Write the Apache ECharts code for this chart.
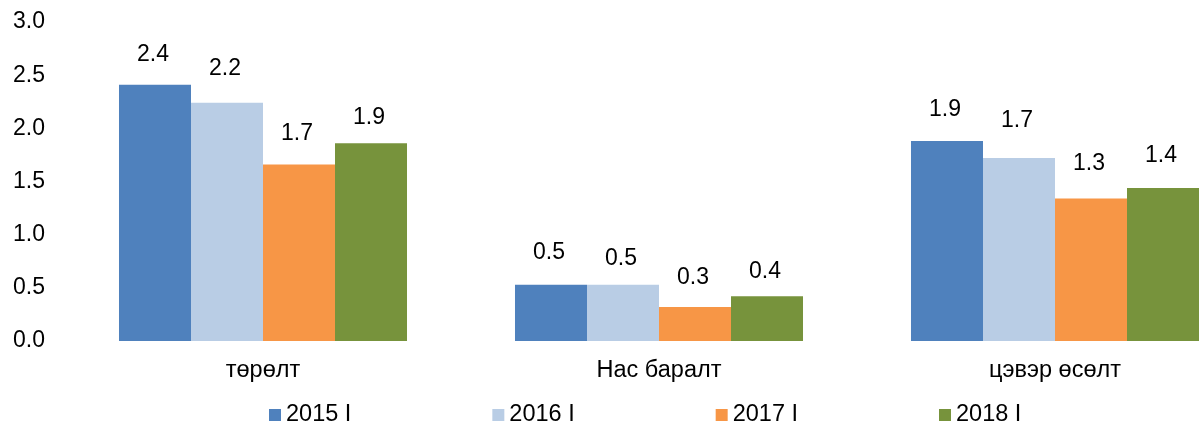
<!DOCTYPE html>
<html>
<head>
<meta charset="utf-8">
<script src="https://cdn.jsdelivr.net/npm/echarts@6/dist/echarts.min.js"></script>
<style>
html,body{margin:0;padding:0;background:#fff;overflow:hidden;width:1201px;height:421px;}
#c{width:1253px;height:421px;}
</style>
</head>
<body>
<div id="c"></div>
<script>
const categories = ['төрөлт', 'Нас баралт', 'цэвэр өсөлт'];
const seriesNames = ['2015 I', '2016 I', '2017 I', '2018 I'];
const s2015 = [2.41, 0.53, 1.88];
const s2016 = [2.24, 0.53, 1.72];
const s2017 = [1.66, 0.32, 1.34];
const s2018 = [1.86, 0.42, 1.44];
const colors = ['#4F81BD', '#B9CDE5', '#F79646', '#77933C'];
const allData = [s2015, s2016, s2017, s2018];
// label nudges (px, positive = higher) to mimic hand-placed labels
const labelLift = [[0, 1, 1], [4, -5, 7], [0, -1, 4], [-5, -6, 2]];
const FONT = '"Liberation Sans", Arial, sans-serif';

const chart = echarts.init(document.getElementById('c'), null, {renderer: 'canvas'});
chart.setOption({
  animation: false,
  backgroundColor: '#fff',
  color: colors,
  grid: {left: 65, right: 0, top: 22, bottom: 80, containLabel: false},
  legend: {
    data: seriesNames,
    left: 264, top: 398,
    icon: 'rect', itemWidth: 12, itemHeight: 12, itemGap: 141,
    textStyle: {fontFamily: FONT, fontSize: 23.5, color: '#000'}
  },
  xAxis: {
    type: 'category', data: categories,
    axisLine: {show: false}, axisTick: {show: false},
    axisLabel: {fontFamily: FONT, fontSize: 23.5, color: '#000', margin: 18}
  },
  yAxis: {
    type: 'value', min: 0, max: 3, interval: 0.5,
    splitLine: {show: false}, axisLine: {show: false}, axisTick: {show: false},
    axisLabel: {fontFamily: FONT, fontSize: 23, color: '#000', margin: 20,
      formatter: v => v.toFixed(1)}
  },
  series: seriesNames.map((n, i) => ({
    name: n, type: 'bar',
    data: allData[i].map((v, j) => ({value: v, label: {offset: [-2, -labelLift[i][j]]}})),
    barGap: '0%', barCategoryGap: '27.27%',
    itemStyle: {color: colors[i]},
    label: {show: true, position: 'top', distance: 19,
      fontFamily: FONT, fontSize: 23, color: '#000',
      formatter: p => p.value.toFixed(1)}
  }))
});
</script>
</body>
</html>
